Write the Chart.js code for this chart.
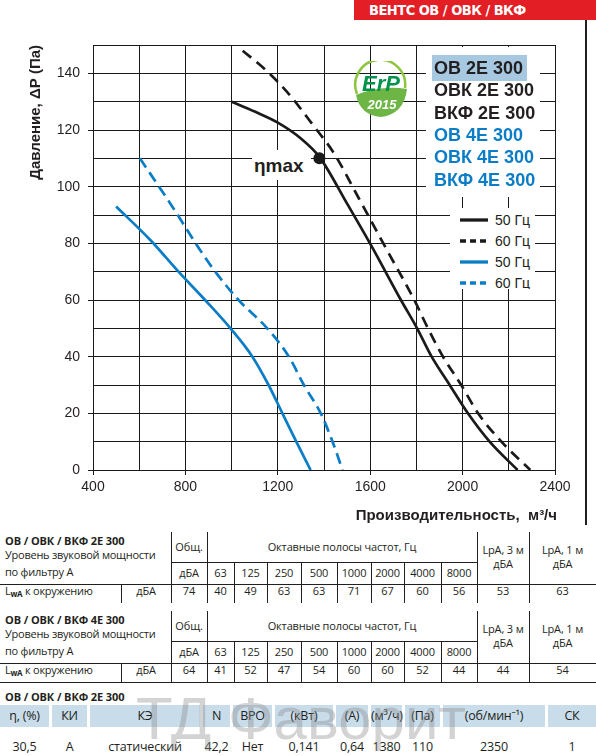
<!DOCTYPE html>
<html lang="ru">
<head>
<meta charset="utf-8">
<title>ВЕНТС ОВ / ОВК / ВКФ 300</title>
<script src="https://cdn.jsdelivr.net/npm/chart.js@4.4.1/dist/chart.umd.min.js"></script>
<style>
  html, body { margin: 0; padding: 0; background: #fff; }
  #page { position: relative; width: 596px; height: 756px; overflow: hidden;
          font-family: "Open Sans", "Noto Sans", sans-serif; color: #231f20; }
  #chart { position: absolute; left: 0; top: 0; }
  .abs { position: absolute; }
  .hdr { left: 354px; top: 0; width: 227px; height: 20px; padding-left: 15px; background: #e31e25; color: #fff;
         font: bold 14.5px "Liberation Sans Narrow", "DejaVu Sans Condensed", sans-serif; letter-spacing: -0.5px;
         line-height: 21px; text-align: left; }
  .model { left: 434px; font: bold 18px "Liberation Sans", Arial, sans-serif; line-height: 22px; white-space: nowrap; }
  .cell { position: absolute; text-align: center; white-space: nowrap; font-size: 11px; letter-spacing: -0.15px; height: 16px; line-height: 16px; }
  .lbl  { position: absolute; white-space: nowrap; font-size: 11px; letter-spacing: -0.25px; height: 16px; line-height: 16px; }
  .ttl  { position: absolute; white-space: nowrap; font-size: 11px; font-weight: bold; letter-spacing: -0.1px; height: 16px; line-height: 16px; }
  .hl { position: absolute; height: 1px; background: #231f20; }
  .vl { position: absolute; width: 1px; background: #231f20; }
  .blue-cell { position: absolute; background: #c9dcea; top: 705px; height: 22px; }
  .eff { position: absolute; text-align: center; white-space: nowrap; font-size: 12.5px; letter-spacing: -0.2px; height: 18px; line-height: 18px; }
  .wm { left: 136px; top: 684px; font: 60px "Liberation Sans", Arial, sans-serif; color: rgba(140,140,140,0.38); white-space: nowrap; z-index: 2; }
</style>
</head>
<body>
<div id="page">
  <canvas id="chart" width="596" height="530"></canvas>

  <div class="abs hdr">ВЕНТС ОВ / ОВК / ВКФ</div>
  <div class="abs" style="left:585px;top:20px;width:1.5px;height:505px;background:#231f20"></div>

  <!-- ErP badge -->
  <svg class="abs" style="left:352px;top:61px" width="58" height="58" viewBox="0 0 58 58">
    <path d="M5 33 A25 25 0 1 1 53 27" fill="none" stroke="#8cc63e" stroke-width="2.5"/>
    <path d="M4 34 Q29 24 55 28 Q52 53 29 56 Q8 54 4 34 Z" fill="#6db645"/>
    <text x="29" y="30" text-anchor="middle" font-family="Liberation Sans, Arial" font-weight="bold" font-style="italic" font-size="22" fill="#00934a">ErP</text>
    <text x="30" y="48" text-anchor="middle" font-family="Liberation Sans, Arial" font-weight="bold" font-style="italic" font-size="13" fill="#fff">2015</text>
  </svg>

  <!-- model names -->
  <div class="abs" style="left:426px;top:47px;width:114px;height:150px;background:#fff"></div>
  <div class="abs" style="left:432px;top:55px;width:95px;height:26px;background:#a6c8e0"></div>
  <div id="models"></div>

  <!-- frequency legend -->
  <svg class="abs" style="left:450px;top:208px" width="85" height="81">
    <rect x="0" y="0" width="85" height="81" fill="#fff"/>
    <line x1="10" y1="12" x2="38" y2="12" stroke="#1a1a1a" stroke-width="3.3"/>
    <line x1="10" y1="33" x2="38" y2="33" stroke="#1a1a1a" stroke-width="3.3" stroke-dasharray="6,4"/>
    <line x1="10" y1="54" x2="38" y2="54" stroke="#0b7dc6" stroke-width="3.3"/>
    <line x1="10" y1="75" x2="38" y2="75" stroke="#0b7dc6" stroke-width="3.3" stroke-dasharray="6,4"/>
    <g font-family="Liberation Sans, Arial" font-size="14" fill="#231f20">
      <text x="45" y="17">50 Гц</text>
      <text x="45" y="38">60 Гц</text>
      <text x="45" y="59">50 Гц</text>
      <text x="45" y="80">60 Гц</text>
    </g>
  </svg>

  <div class="abs" style="left:252px;top:150px;width:57px;height:30px;background:#fff;font:bold 19px 'Liberation Sans', Arial, sans-serif;line-height:32px;padding-left:2px">ηmax</div>

  <div class="abs wm">ТД Фаворит</div>
  <div id="tables"></div>
</div>

<script>
// Pressure curves: airflow (m³/h) and static pressure (Pa)
const q2E50 = [1000, 1100, 1200, 1300, 1380, 1500, 1610, 1733, 1803, 1866, 1944, 2023, 2117, 2238];
const p2E50 = [130, 126.5, 122.6, 117, 110.5, 94, 78.4, 60, 50, 40, 30, 20, 10, 0];
const q2E60 = [1048, 1150, 1250, 1350, 1443, 1550, 1668, 1791, 1850, 1915, 1994, 2067, 2168, 2293];
const p2E60 = [148, 141, 132.5, 122, 111.8, 96, 78.3, 60, 50, 40, 30, 20, 10, 0];
const q4E50 = [500, 650, 770, 885, 995, 1090, 1160, 1220, 1280, 1342];
const p4E50 = [93, 81, 70, 60, 50, 40, 30, 20, 10, 0];
const q4E60 = [603, 735, 864, 929, 1030, 1154, 1248, 1313, 1386, 1437, 1480];
const p4E60 = [110, 94, 77.6, 70, 60, 50, 40, 30, 20, 10, 0];
const etaQ = [1380];
const etaP = [110];

const xTicks = [400, 800, 1200, 1600, 2000, 2400];
const yTicks = [0, 20, 40, 60, 80, 100, 120, 140];

const models = ["ОВ 2Е 300", "ОВК 2Е 300", "ВКФ 2Е 300", "ОВ 4Е 300", "ОВК 4Е 300", "ВКФ 4Е 300"];

// Sound tables
const bands = ["63", "125", "250", "500", "1000", "2000", "4000", "8000"];
const total2E = "74", oct2E = ["40", "49", "63", "63", "71", "67", "60", "56"], lpa2E = ["53", "63"];
const total4E = "64", oct4E = ["41", "52", "47", "54", "60", "60", "52", "44"], lpa4E = ["44", "54"];

// Efficiency table
const effHead = ["η, (%)", "КИ", "КЭ", "N", "ВРО", "(кВт)", "(А)", "(м³/ч)", "(Па)", "(об/мин⁻¹)", "СК"];
const effVals = ["30,5", "A", "статический", "42,2", "Нет", "0,141", "0,64", "1380", "110", "2350", "1"];

const INK = "#231f20";
const GRID = "#1a1a1a";
const BLACK = "#1a1a1a";
const BLUE = "#0b7dc6";

function pts(qs, ps) { return qs.map((q, i) => ({ x: q, y: ps[i] })); }

// model names
const modelsEl = document.getElementById("models");
models.forEach((m, i) => {
  const d = document.createElement("div");
  d.className = "abs model";
  d.style.top = (57 + i * 22.3) + "px";
  d.style.color = i < 3 ? "#231f20" : BLUE;
  d.textContent = m;
  modelsEl.appendChild(d);
});

// axis titles drawn on the canvas
const axisTitles = {
  id: "axisTitles",
  afterDraw(chart) {
    const c = chart.ctx;
    c.save();
    c.fillStyle = INK;
    c.font = 'bold 15px "Liberation Sans", Arial, sans-serif';
    c.textAlign = "right";
    c.textBaseline = "alphabetic";
    c.fillText("Производительность,  м³/ч", 557, 520);
    c.translate(40, 45);
    c.rotate(-Math.PI / 2);
    c.fillText("Давление, ΔP (Па)", 0, 0);
    c.restore();
  }
};

const tickFont = { size: 14, family: '"Liberation Sans", Arial, sans-serif' };

new Chart(document.getElementById("chart"), {
  type: "line",
  data: {
    datasets: [
      { data: pts(q2E50, p2E50), borderColor: BLACK, borderWidth: 2.7 },
      { data: pts(q2E60, p2E60), borderColor: BLACK, borderWidth: 2.7, borderDash: [11, 7] },
      { data: pts(q4E50, p4E50), borderColor: BLUE, borderWidth: 2.7 },
      { data: pts(q4E60, p4E60), borderColor: BLUE, borderWidth: 2.7, borderDash: [11, 6] },
      { data: pts(etaQ, etaP), showLine: false, pointRadius: 6, pointBackgroundColor: BLACK, pointBorderWidth: 0 },
    ]
  },
  options: {
    responsive: false,
    animation: false,
    devicePixelRatio: 1,
    layout: { padding: { left: 0, right: 41, top: 45, bottom: 0 } },
    plugins: { legend: { display: false }, tooltip: { enabled: false } },
    elements: { point: { radius: 0 }, line: { cubicInterpolationMode: "monotone", fill: false } },
    scales: {
      x: {
        type: "linear", min: 400, max: 2400,
        afterFit(s) { s.height = 60; },
        ticks: { stepSize: 200, autoSkip: false, maxRotation: 0, padding: 4, color: INK, font: tickFont,
                 callback: v => xTicks.includes(v) ? String(v) : "" },
        grid: { color: GRID, lineWidth: 1, tickLength: 5,
                tickColor: c => (c.tick && xTicks.includes(c.tick.value)) ? GRID : "rgba(0,0,0,0)" },
        border: { color: GRID, width: 1 }
      },
      y: {
        min: 0, max: 150,
        afterFit(s) { s.width = 93; },
        ticks: { stepSize: 10, autoSkip: false, padding: 8, color: INK, font: tickFont,
                 callback: v => yTicks.includes(v) ? String(v) : "" },
        grid: { color: GRID, lineWidth: 1, tickLength: 5,
                tickColor: c => (c.tick && yTicks.includes(c.tick.value)) ? GRID : "rgba(0,0,0,0)" },
        border: { color: GRID, width: 1 }
      }
    }
  },
  plugins: [axisTitles]
});

// ---------- tables below the chart ----------
const host = document.getElementById("tables");
function add(cls, text, style) {
  const d = document.createElement("div");
  d.className = cls;
  if (text !== null) d.textContent = text;
  Object.assign(d.style, style);
  host.appendChild(d);
  return d;
}
function cell(text, x1, x2, yc, cls) {
  add(cls || "cell", text, { left: x1 + "px", width: (x2 - x1) + "px", top: (yc - 8) + "px" });
}
function hline(x1, x2, y) { add("hl", null, { left: x1 + "px", width: (x2 - x1) + "px", top: y + "px" }); }
function vline(x, y1, y2) { add("vl", null, { left: x + "px", top: y1 + "px", height: (y2 - y1) + "px" }); }

const colX = [207, 234, 267, 301, 337, 371, 404, 441, 477];

function soundTable(dy, title, total, oct, lpa, closed) {
  const top = 532 + dy, mid = 562 + dy, low = 584 + dy, bot = 603 + dy;
  add("ttl", title, { left: "5px", top: (541 + dy - 8) + "px" });
  add("lbl", "Уровень звуковой мощности", { left: "5px", top: (555 + dy - 8) + "px" });
  add("lbl", "по фильтру А", { left: "5px", top: (572 + dy - 8) + "px" });
  const l = add("lbl", null, { left: "5px", top: (591 + dy - 8) + "px" });
  l.innerHTML = 'L<sub style="font-size:8px;font-weight:bold;vertical-align:-2px">wA</sub> к окружению';
  cell("дБА", 121, 171, 591 + dy);

  cell("Общ.", 171, 207, 547 + dy);
  cell("дБА", 171, 207, 573 + dy);
  cell(total, 171, 207, 591 + dy);
  cell("Октавные полосы частот, Гц", 207, 477, 547 + dy);
  bands.forEach((b, i) => {
    cell(b, colX[i], colX[i + 1], 573 + dy);
    cell(oct[i], colX[i], colX[i + 1], 591 + dy);
  });
  cell("LpA, 3 м", 477, 529, 550 + dy);
  cell("дБА", 477, 529, 564 + dy);
  cell("LpA, 1 м", 529, 596, 550 + dy);
  cell("дБА", 529, 596, 564 + dy);
  cell(lpa[0], 477, 529, 591 + dy);
  cell(lpa[1], 529, 596, 591 + dy);

  vline(171, top, bot); vline(207, top, bot); vline(477, top, bot); vline(529, top, bot);
  colX.slice(1, -1).forEach(x => vline(x, mid, bot));
  vline(121, low, bot);
  hline(171, 477, mid);
  hline(0, 596, low);
  if (closed) hline(0, 596, bot);
}

soundTable(0, "ОВ / ОВК / ВКФ 2Е 300", total2E, oct2E, lpa2E, false);
soundTable(79, "ОВ / ОВК / ВКФ 4Е 300", total4E, oct4E, lpa4E, true);

// efficiency block
add("ttl", "ОВ / ОВК / ВКФ 2Е 300", { left: "5px", top: (697 - 8) + "px" });
const effCols = [[0, 49], [52, 87], [90, 200], [203, 230], [233, 272], [275, 333], [336, 368], [371, 402], [405, 440], [443, 545], [548, 596]];
effCols.forEach(([a, b], i) => {
  add("blue-cell", null, { left: a + "px", width: (b - a) + "px" });
  add("eff", effHead[i], { left: a + "px", width: (b - a) + "px", top: (716 - 9) + "px" });
  add("eff", effVals[i], { left: a + "px", width: (b - a) + "px", top: (747 - 9) + "px" });
});
</script>
</body>
</html>
